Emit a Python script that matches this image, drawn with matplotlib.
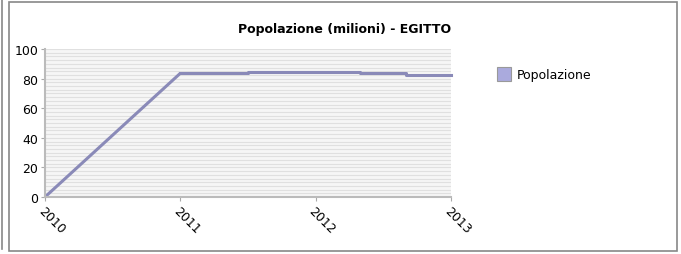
import matplotlib
matplotlib.use("Agg")
import matplotlib.pyplot as plt
from matplotlib.patches import Rectangle
from matplotlib.lines import Line2D

# data
years = [2010, 2011, 2011.5, 2012.33, 2012.67, 2013]
popolazione = [0, 83.6, 84.2, 83.5, 82.7, 82.7]
xticks = [2010, 2011, 2012, 2013]
yticks = [0, 20, 40, 60, 80, 100]

title = "Popolazione (milioni) - EGITTO"
series_name = "Popolazione"

line_color = "#8a8ab8"
patch_color = "#aaaadd"

fig = plt.figure(figsize=(6.81, 2.55), dpi=100)

# outer panel border
fig.add_artist(Rectangle((9 / 681, 3 / 255), 668 / 681, 249 / 255,
                         transform=fig.transFigure, fill=False,
                         edgecolor="#888888", linewidth=1.2))
fig.add_artist(Line2D([2 / 681, 2 / 681], [0.02, 1.0], transform=fig.transFigure,
                      color="#888888", linewidth=1.2))

ax = fig.add_axes([45 / 681, 1 - 198 / 255, 406 / 681, 148 / 255])
ax.set_facecolor("#f6f6f6")

ax.set_xlim(2010, 2013)
ax.set_ylim(0, 100)
ax.set_yticks(yticks)
ax.set_yticks([v * 2.5 for v in range(41)], minor=True)
ax.set_xticks(xticks)
ax.set_xticklabels([str(v) for v in xticks], rotation=-45, ha="left", va="top",
                   rotation_mode="anchor")
ax.grid(which="minor", axis="y", color="#e0e0e0", linewidth=0.8)
ax.grid(which="major", axis="y", color="#e0e0e0", linewidth=0.8)
ax.tick_params(axis="y", which="minor", length=0)
ax.tick_params(axis="both", which="major", labelsize=9, color="#aaaaaa",
               length=3, pad=2)
ax.set_axisbelow(True)

for side in ["top", "right"]:
    ax.spines[side].set_visible(False)
for side in ["left", "bottom"]:
    ax.spines[side].set_color("#bbbbbb")
    ax.spines[side].set_linewidth(1.5)

# first segment is a ramp, the rest are steps
ax.plot(years[:2], popolazione[:2], color=line_color, linewidth=2.2,
        solid_capstyle="butt", clip_on=False)
ax.step(years[1:], popolazione[1:], where="post", color=line_color,
        linewidth=2.2, clip_on=False)

fig.text(345 / 681, 1 - 30 / 255, title, ha="center", va="center",
         fontsize=9, fontweight="bold")

# legend
fig.add_artist(Rectangle((497 / 681, 1 - 82 / 255), 14 / 681, 14 / 255,
                         transform=fig.transFigure, facecolor=patch_color,
                         edgecolor="#999999", linewidth=0.8))
fig.text(517 / 681, 1 - 75 / 255, series_name, ha="left", va="center",
         fontsize=9)

fig.savefig("out.png", dpi=100)
